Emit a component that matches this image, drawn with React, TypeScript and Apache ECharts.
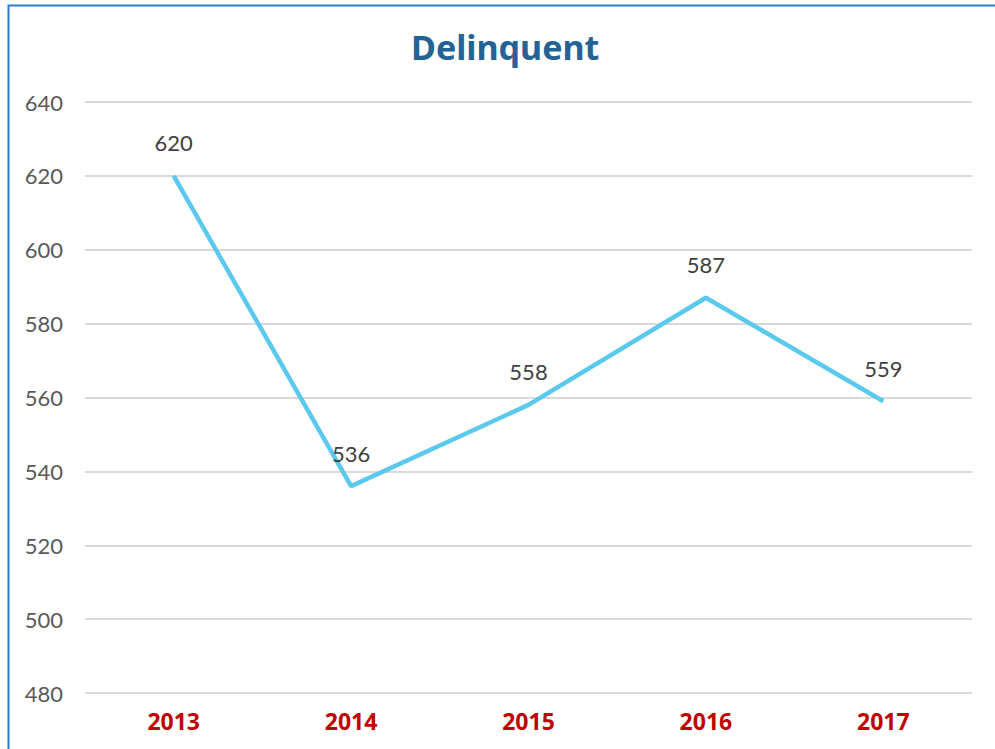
import React, { useEffect, useRef } from "react";
import * as echarts from "echarts";

const categories = ["2013", "2014", "2015", "2016", "2017"];
const delinquent = [620, 536, 558, 587, 559];
const titleText = "Delinquent";

export default function App() {
  const ref = useRef<HTMLDivElement>(null);
  useEffect(() => {
    if (!ref.current) return;
    const chart = echarts.init(ref.current, null, { renderer: "svg" });
    chart.setOption({
      animation: false,
      backgroundColor: "#ffffff",
      title: {
        text: titleText,
        left: 406,
        top: 25,
        textStyle: { fontFamily: "Noto Sans", fontWeight: "bold", fontSize: 34, color: "#236396" },
      },
      graphic: [
        {
          type: "rect",
          shape: { x: 8.5, y: 5.5, width: 1100, height: 900 },
          style: { fill: "none", stroke: "#2B7BCB", lineWidth: 2 },
          silent: true,
        },
      ],
      grid: { left: 85, right: 23, top: 102, bottom: 56, containLabel: false },
      xAxis: {
        type: "category",
        data: categories,
        boundaryGap: true,
        axisLine: { show: false },
        axisTick: { show: false },
        axisLabel: {
          color: "#C00000",
          fontFamily: "Noto Sans",
          fontWeight: "bold",
          fontSize: 23,
          margin: 16,
        },
      },
      yAxis: {
        type: "value",
        min: 480,
        max: 640,
        interval: 20,
        axisLine: { show: false },
        axisTick: { show: false },
        splitLine: { lineStyle: { color: "#D9D9D9", width: 2 } },
        axisLabel: { color: "#595959", fontFamily: "Lato", fontSize: 22, margin: 22 },
      },
      series: [
        {
          type: "line",
          data: delinquent,
          symbol: "circle",
          symbolSize: 0,
          showSymbol: true,
          itemStyle: { color: "#5BC9EE" },
          lineStyle: { color: "#5BC9EE", width: 4.5 },
          label: {
            show: true,
            position: "top",
            distance: 22,
            color: "#404040",
            fontFamily: "Lato",
            fontSize: 22,
          },
        },
      ],
    });
    return () => chart.dispose();
  }, []);
  return (
    <div
      ref={ref}
      style={{ position: "fixed", left: 0, top: 0, width: 995, height: 749 }}
    />
  );
}
